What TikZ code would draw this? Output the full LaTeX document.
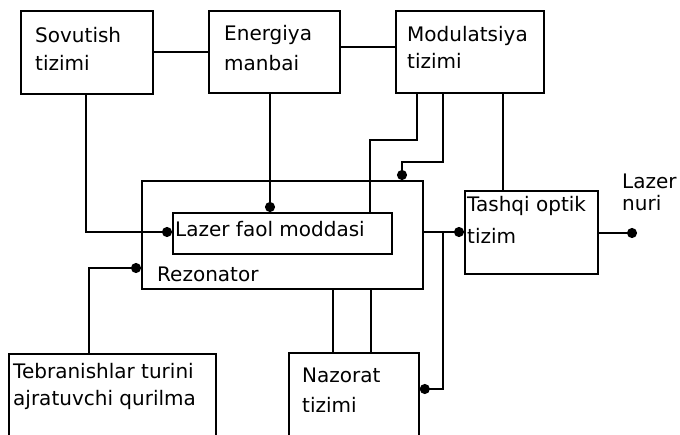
\documentclass[tikz,border=0pt]{standalone}
\usepackage{fontspec}
\setmainfont{DejaVu Sans}
\usetikzlibrary{arrows.meta}
\begin{document}
\begin{tikzpicture}[x=1pt,y=-1pt,
  box/.style={draw,line width=1.8pt,minimum width=#1,inner sep=0pt,anchor=north west},
  lbl/.style={anchor=base west,inner sep=0pt,font=\fontsize{20}{24}\selectfont},
  wire/.style={line width=2pt},
  arr/.style={wire,-{Circle[length=10pt,width=10pt]}}]
\useasboundingbox (0,0) rectangle (680,434);
% boxes
\node[box=132pt,minimum height=83pt] (sov) at (20,10) {};
\node[box=131pt,minimum height=82pt] (ene) at (208,10) {};
\node[box=148pt,minimum height=82pt] (mod) at (395,10) {};
\node[box=281pt,minimum height=108pt] (rez) at (141,180) {};
\node[box=219pt,minimum height=41pt] (laz) at (172,212) {};
\node[box=133pt,minimum height=83pt] (tash) at (464,190) {};
\node[box=207pt,minimum height=100pt] (teb) at (8,353) {};
\node[box=130pt,minimum height=100pt] (naz) at (288,352) {};
% texts
\node[lbl] (t1a) at (35,42) {Sovutish};
\node[lbl] (t1b) at (35,70) {tizimi};
\node[lbl] (t2a) at (224,40) {Energiya};
\node[lbl] (t2b) at (224,70) {manbai};
\node[lbl] (t3a) at (407,41) {Modulatsiya};
\node[lbl] (t3b) at (407,68) {tizimi};
\node[lbl] (t4) at (175,236) {Lazer faol moddasi};
\node[lbl] (t5) at (157,281) {Rezonator};
\node[lbl] (t6a) at (467,211) {Tashqi optik};
\node[lbl] (t6b) at (467,243) {tizim};
\node[lbl] (t7a) at (13,378) {Tebranishlar turini};
\node[lbl] (t7b) at (13,405) {ajratuvchi qurilma};
\node[lbl] (t8a) at (302,382) {Nazorat};
\node[lbl] (t8b) at (302,412) {tizimi};
\node[lbl] (t9a) at (622,188) {Lazer};
\node[lbl] (t9b) at (622,210) {nuri};
% helper coordinates
\coordinate (j1) at (443,232);
\coordinate (out) at (637,233);
% connectors
\draw[wire] (sov.east |- 0,52) -- (ene.west |- 0,52);
\draw[wire] (ene.east |- 0,47) -- (mod.west |- 0,47);
\draw[arr] (ene.south -| 270,0) -- (laz.north -| 270,0);
\draw[arr] (sov.south -| 86,0) -- (86,232) -- (laz.west |- 0,232);
\draw[arr] (teb.north -| 89,0) -- (89,268) -- (rez.west |- 0,268);
\draw[wire] (mod.south -| 417,0) -- (417,140) -- (370,140) -- (laz.north -| 370,0);
\draw[arr] (mod.south -| 443,0) -- (443,162) -- (402,162) -- (rez.north -| 402,0);
\draw[wire] (mod.south -| 503,0) -- (tash.north -| 503,0);
\draw[arr] (rez.east |- 0,232) -- (tash.west |- 0,232);
\draw[arr] (j1) -- (443,389) -- (naz.east |- 0,389);
\draw[wire] (rez.south -| 333,0) -- (naz.north -| 333,0);
\draw[wire] (rez.south -| 371,0) -- (naz.north -| 371,0);
\draw[arr] (tash.east |- 0,233) -- (out);
\end{tikzpicture}
\end{document}
